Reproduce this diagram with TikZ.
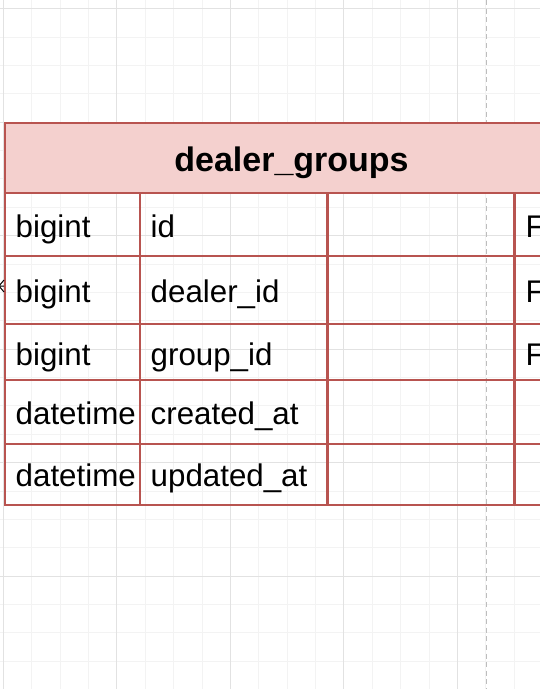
\documentclass[tikz,border=0pt]{standalone}
\usepackage{fontspec}
\setmainfont{Liberation Sans}
\definecolor{erline}{HTML}{B85450}
\definecolor{erfill}{HTML}{F4D0CE}
\definecolor{gridminor}{HTML}{F3F3F3}
\definecolor{gridmajor}{HTML}{E2E2E2}
\definecolor{dashgray}{HTML}{BDBDBD}
\tikzset{
  minorline/.style={draw=gridminor, line width=0.9pt},
  majorline/.style={draw=gridmajor, line width=1pt},
  pagedash/.style={draw=dashgray, line width=1.4pt, dash pattern=on 5pt off 3.6pt},
  tblline/.style={draw=erline, line width=2.5pt},
  cell/.style={anchor=base west, inner sep=0pt, font=\fontsize{31.3}{37}\selectfont},
  titletext/.style={anchor=base, inner sep=0pt, font=\fontsize{34}{40}\selectfont\bfseries},
}
\begin{document}
\begin{tikzpicture}[x=1pt,y=-1pt]
\useasboundingbox (0,0) rectangle (540,689);
\clip (0,0) rectangle (540,689);
\fill[white] (0,0) rectangle (540,689);
% grid
\foreach \i in {0,...,19} \draw[minorline] ({3.4+28.375*\i},0) -- ({3.4+28.375*\i},689);
\foreach \j in {0,...,24} \draw[minorline] (0,{8.6+28.375*\j}) -- (540,{8.6+28.375*\j});
\foreach \i in {0,...,4} \draw[majorline] ({3.4+113.5*\i},0) -- ({3.4+113.5*\i},689);
\foreach \j in {0,...,6} \draw[majorline] (0,{8.6+113.5*\j}) -- (540,{8.6+113.5*\j});
% page break line
\draw[pagedash] (486.7,0) -- (486.7,689);
% header
\filldraw[tblline, fill=erfill] (5,123) rectangle (578,193);
\node[titletext] (title) at (291.5,171.5) {dealer\_groups};
% body
\draw[tblline] (5,193) rectangle (578,505);
\foreach \y in {256,324,380,444} \draw[tblline] (5,\y) -- (578,\y);
\foreach \x in {140,327.7,514.3} \draw[tblline] (\x,193) -- (\x,505);
% cells
\node[cell] (t1) at (15.5,237) {bigint};
\node[cell] (n1) at (150.5,237) {id};
\node[cell] (k1) at (525.5,237.5) {F};
\node[cell] (t2) at (15.5,302.3) {bigint};
\node[cell] (n2) at (150.5,302.3) {dealer\_id};
\node[cell] (k2) at (525.5,302.3) {F};
\node[cell] (t3) at (15.5,365) {bigint};
\node[cell] (n3) at (150.5,365) {group\_id};
\node[cell] (k3) at (525.5,365) {F};
\node[cell] (t4) at (15.5,424.5) {datetime};
\node[cell] (n4) at (150.5,424.5) {created\_at};
\node[cell] (t5) at (15.5,486.7) {datetime};
\node[cell] (n5) at (150.5,486.7) {updated\_at};
% crow's foot of incoming relation
\coordinate (cf) at (-1,286);
\draw[black, line width=1pt] (cf) -- (4,280) (cf) -- (4,286) (cf) -- (4,292);
\end{tikzpicture}
\end{document}
